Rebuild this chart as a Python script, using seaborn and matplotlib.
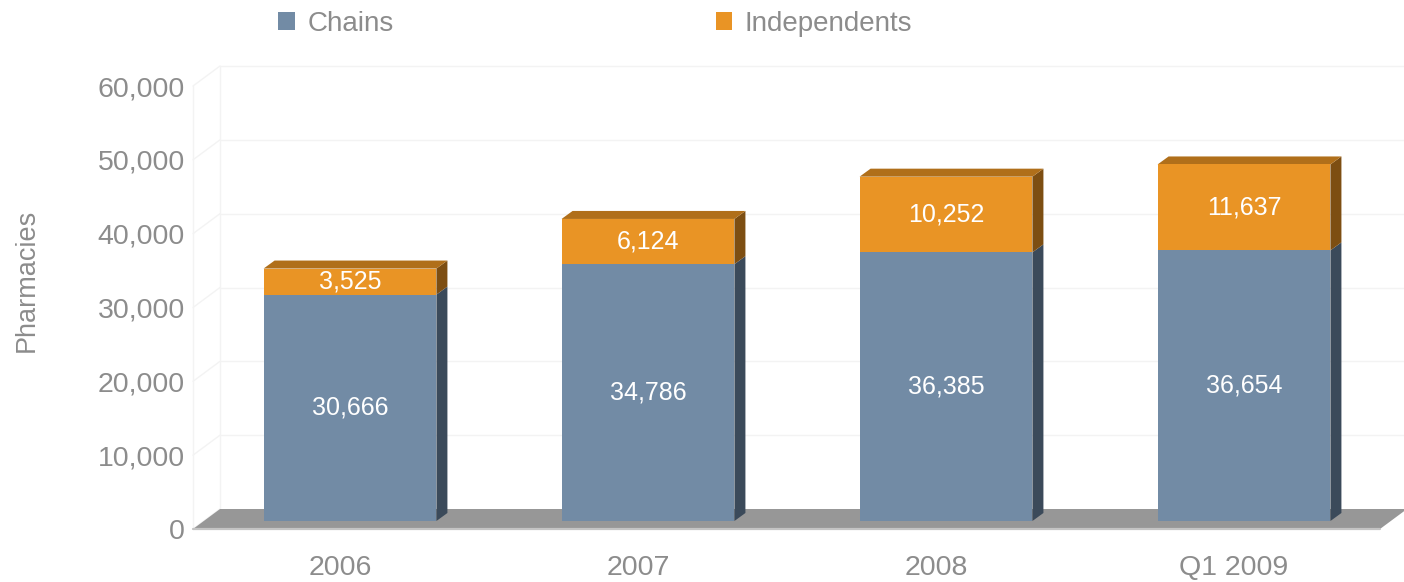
import numpy as np
import pandas as pd
import matplotlib
matplotlib.use("Agg")
import matplotlib.pyplot as plt
import seaborn as sns
from matplotlib.patches import Polygon, Patch
from matplotlib.lines import Line2D

# ---- data -------------------------------------------------------------
periods = ["2006", "2007", "2008", "Q1 2009"]
chains = [30666, 34786, 36385, 36654]
independents = [3525, 6124, 10252, 11637]
y_ticks = [0, 10000, 20000, 30000, 40000, 50000, 60000]
y_tick_labels = ["0", "10,000", "20,000", "30,000", "40,000", "50,000", "60,000"]

# ---- style ------------------------------------------------------------
BLUE = "#728ba5"
BLUE_SIDE = "#3b4a5a"
ORANGE = "#e99425"
ORANGE_SIDE = "#7d4e12"
ORANGE_TOP = "#b06f1a"
FLOOR = "#979797"
FLOOR_LIP = "#c4c4c4"
WALL = "#f3f3f3"
TEXT = "#8c8c8c"

W, H, DPI = 1404, 582, 100
sns.set_theme(style="white")
plt.rcParams["font.family"] = ["Liberation Sans", "DejaVu Sans"]

fig = plt.figure(figsize=(W / DPI, H / DPI), dpi=DPI)

# plot frame in pixels (front plane)
px_left, px_right, px_zero, px_top = 193, 1380, 529, 86
ax = fig.add_axes([px_left / W, (H - px_zero) / H,
                   (px_right - px_left) / W, (px_zero - px_top) / H])

df = pd.DataFrame({"period": periods, "Chains": chains,
                   "Independents": independents})
df["total"] = df["Chains"] + df["Independents"]

bar_w = 0.58
sns.barplot(data=df, x="period", y="total", color=ORANGE, width=bar_w,
            saturation=1, linewidth=0, ax=ax, zorder=3)
sns.barplot(data=df, x="period", y="Chains", color=BLUE, width=bar_w,
            saturation=1, linewidth=0, ax=ax, zorder=3)

x0_lim = (px_left - 340) / 298.0
x1_lim = (px_right - 340) / 298.0
ax.set_xlim(x0_lim, x1_lim)
ax.set_ylim(0, 60000)

# data units per pixel
ux = (x1_lim - x0_lim) / (px_right - px_left)
uy = 60000 / (px_zero - px_top)

# depth offsets (pixels -> data)
floor_dx, floor_dy = 27 * ux, 20 * uy      # full depth of the floor / walls
face_dx, face_dy = 10 * ux, 8 * uy         # front faces of the bars sit inside the floor
bar_dx, bar_dy = 11 * ux, 8 * uy           # thickness of each bar

# ---- walls and floor ---------------------------------------------------
for v in y_ticks[1:]:
    ax.add_line(Line2D([x0_lim + floor_dx, x1_lim + floor_dx],
                       [v + floor_dy, v + floor_dy], color=WALL, lw=1,
                       clip_on=False, zorder=0))
for v in y_ticks:
    ax.add_line(Line2D([x0_lim, x0_lim + floor_dx], [v, v + floor_dy],
                       color=WALL, lw=1, clip_on=False, zorder=0))
ax.add_line(Line2D([x0_lim, x0_lim], [0, y_ticks[-1]], color=WALL, lw=1,
                   clip_on=False, zorder=0))
ax.add_line(Line2D([x0_lim + floor_dx] * 2, [floor_dy, y_ticks[-1] + floor_dy],
                   color=WALL, lw=1, clip_on=False, zorder=0))

floor = Polygon([(x0_lim, 0), (x1_lim, 0), (x1_lim + floor_dx, floor_dy),
                 (x0_lim + floor_dx, floor_dy)], closed=True,
                facecolor=FLOOR, edgecolor="none", clip_on=False, zorder=1)
ax.add_patch(floor)
ax.add_line(Line2D([x0_lim, x1_lim], [0, 0], color=FLOOR_LIP, lw=1.6,
                   clip_on=False, zorder=1.5))

# ---- 3D bars -----------------------------------------------------------
n = len(periods)
indep_bars = ax.patches[:n]
chain_bars = ax.patches[n:2 * n]
for p in list(indep_bars) + list(chain_bars):
    p.set_x(p.get_x() + face_dx)
    p.set_y(p.get_y() + face_dy)
    p.set_clip_on(False)

for cb, ib, c, i in zip(chain_bars, indep_bars, chains, independents):
    xl = cb.get_x()
    xr = xl + cb.get_width()
    yb = cb.get_y()
    yc = yb + c
    yt = yc + i
    # right side faces
    ax.add_patch(Polygon([(xr, yb), (xr + bar_dx, yb + bar_dy),
                          (xr + bar_dx, yc + bar_dy), (xr, yc)],
                         closed=True, facecolor=BLUE_SIDE, edgecolor="none",
                         clip_on=False, zorder=2.9))
    ax.add_patch(Polygon([(xr, yc), (xr + bar_dx, yc + bar_dy),
                          (xr + bar_dx, yt + bar_dy), (xr, yt)],
                         closed=True, facecolor=ORANGE_SIDE, edgecolor="none",
                         clip_on=False, zorder=2.9))
    # top face
    ax.add_patch(Polygon([(xl, yt), (xr, yt), (xr + bar_dx, yt + bar_dy),
                          (xl + bar_dx, yt + bar_dy)],
                         closed=True, facecolor=ORANGE_TOP, edgecolor="none",
                         clip_on=False, zorder=2.9))
    # value labels
    xm = (xl + xr) / 2
    ax.text(xm, yb + c / 2, f"{c:,}", ha="center", va="center",
            color="white", fontsize=18, zorder=5)
    ax.text(xm, yc + i / 2, f"{i:,}", ha="center", va="center",
            color="white", fontsize=18, zorder=5)

# ---- axes text ---------------------------------------------------------
ax.set_yticks(y_ticks)
ax.set_yticklabels(y_tick_labels)
ax.set_xlabel("")
ax.set_ylabel("")
ax.tick_params(axis="both", length=0, colors=TEXT, labelsize=20.5)
ax.tick_params(axis="y", pad=6)
ax.tick_params(axis="x", pad=19)
for s in ax.spines.values():
    s.set_visible(False)
ax.grid(False)
ax.set_facecolor("none")

fig.text(27 / W, 1 - 280 / H, "Pharmacies", rotation=90, ha="center",
         va="center", color=TEXT, fontsize=19.5)

handles = [Patch(facecolor=BLUE, edgecolor="none", label="Chains"),
           Patch(facecolor=ORANGE, edgecolor="none", label="Independents")]
fig.legend(handles=handles, ncol=2, loc="center left",
           bbox_to_anchor=(278 / W, 1 - 24 / H), frameon=False,
           handlelength=0.6, handleheight=0.6, handletextpad=0.45,
           columnspacing=11.6, borderpad=0, borderaxespad=0,
           fontsize=20, labelcolor=TEXT)

fig.savefig("out.png", dpi=DPI, facecolor="white")
